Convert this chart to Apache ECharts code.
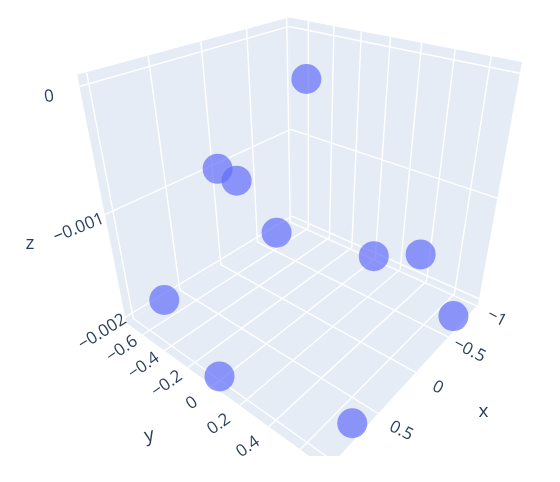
<!DOCTYPE html>
<html><head><meta charset="utf-8">
<script src="https://cdn.jsdelivr.net/npm/echarts@6/dist/echarts.min.js"></script>
<style>html,body{margin:0;background:#fff}#c{width:560px;height:482px}</style>
</head><body><div id="c"></div>
<script>
const xValues=[0,0,0.7,-0.71,-1,0,-0.71,0.71,1,0.72];
const yValues=[0,-0.71,0,-0.71,0,0.71,0.71,0.71,0,-0.71];
const zValues=[0,-0.00101,-0.0005,-0.00202,-0.00202,-0.00101,-0.00202,-0.00202,-0.00202,-0.002];
const xRange=[-1.03,1.07], yRange=[-0.76,0.76], zRange=[-0.00206,0.00008];
const xTicks=[-1,-0.5,0,0.5,1], yTicks=[-0.6,-0.4,-0.2,0,0.2,0.4,0.6], zTicks=[-0.002,-0.001,0];
const zTickAngles=[32,22,8];
const xTitle='x',yTitle='y',zTitle='z';
const corners=[[0,0,0,292.5,222],[1,0,0,126,322],[0,1,0,478,303],[1,1,0,327,470],[0,0,1,288.3,16.7],[1,0,1,77.7,75],[0,1,1,522.3,62.7]];
function solve(M,R){const n=R.length;M=M.map((r,i)=>[...r,R[i]]);for(let i=0;i<n;i++){let k=i;for(let j=i;j<n;j++)if(Math.abs(M[j][i])>Math.abs(M[k][i]))k=j;[M[i],M[k]]=[M[k],M[i]];for(let j=0;j<n;j++)if(j!==i){const f=M[j][i]/M[i][i];for(let l=i;l<=n;l++)M[j][l]-=f*M[i][l];}}return M.map((r,i)=>r[n]/r[i]);}
const rows=[],rhs=[];corners.forEach(([a,b,c,u,v])=>{rows.push([a,b,c,1,0,0,0,0,-u*a,-u*b,-u*c]);rhs.push(u);rows.push([0,0,0,0,a,b,c,1,-v*a,-v*b,-v*c]);rhs.push(v);});
const ATA=Array.from({length:11},(_,i)=>Array.from({length:11},(_,j)=>rows.reduce((s,r)=>s+r[i]*r[j],0))),ATb=Array.from({length:11},(_,i)=>rows.reduce((s,r,k)=>s+r[i]*rhs[k],0));
const [m00,m01,m02,m03,m10,m11,m12,m13,g,h,w]=solve(ATA,ATb);
const nx=v=>(v-xRange[0])/(xRange[1]-xRange[0]),ny=v=>(v-yRange[0])/(yRange[1]-yRange[0]),nz=v=>(v-zRange[0])/(zRange[1]-zRange[0]);
function proj(x,y,z){const a=nx(x),b=ny(y),c=nz(z),q=g*a+h*b+w*c+1;return [(m00*a+m01*b+m02*c+m03)/q,(m10*a+m11*b+m12*c+m13)/q];}
const [x0,x1]=xRange,[y0,y1]=yRange,[z0,z1]=zRange;
const panes=[[[x0,y0,z0],[x1,y0,z0],[x1,y0,z1],[x0,y0,z1]],[[x0,y0,z0],[x0,y1,z0],[x0,y1,z1],[x0,y0,z1]],[[x0,y0,z0],[x1,y0,z0],[x1,y1,z0],[x0,y1,z0]]];
const lines=[];
xTicks.forEach(t=>{lines.push([[t,y0,z0],[t,y0,z1]]);lines.push([[t,y0,z0],[t,y1,z0]]);});
yTicks.forEach(t=>{lines.push([[x0,t,z0],[x0,t,z1]]);lines.push([[x0,t,z0],[x1,t,z0]]);});
zTicks.forEach(t=>{lines.push([[x0,y0,t],[x1,y0,t]]);lines.push([[x0,y0,t],[x0,y1,t]]);});
const fmt=v=>String(v).replace('-','\u2212');
const labels=[];
xTicks.forEach(t=>labels.push({p:[t,y1+0.135,z0-0.00003],s:fmt(t),r:-27,f:17}));
yTicks.forEach(t=>labels.push({p:[x1+0.2,t,z0-0.00001],s:fmt(t),r:35,f:17}));
zTicks.forEach((t,i)=>labels.push({p:[x1+0.22,y0,t-0.00001],s:t===0?'0':t.toFixed(3).replace('-','\u2212'),r:zTickAngles[i],f:17}));
labels.push({p:[0,y1+0.39,z0-0.00002],s:xTitle,r:0,f:19});
labels.push({p:[x1+0.57,0,z0],s:yTitle,r:12,f:19});
labels.push({p:[x1+0.58,y0,-0.00096],s:zTitle,r:0,f:19});
const chart=echarts.init(document.getElementById('c'));
chart.setOption({animation:false,
 grid:{left:0,top:0,width:560,height:456},
 xAxis:{type:'value',min:0,max:560,show:false},yAxis:{type:'value',min:0,max:456,inverse:true,show:false},
 series:[
 {type:'custom',clip:true,data:panes.map((p,i)=>[i]),renderItem:(par,api)=>({type:'polygon',shape:{points:panes[api.value(0)].map(p=>api.coord(proj(...p)))},style:{fill:'#e5ecf6'}})},
 {type:'custom',clip:true,data:lines.map((p,i)=>[i]),renderItem:(par,api)=>{const l=lines[api.value(0)],a=api.coord(proj(...l[0])),b=api.coord(proj(...l[1]));return {type:'line',shape:{x1:a[0],y1:a[1],x2:b[0],y2:b[1]},style:{stroke:'#fff',lineWidth:1.4}};}},
 {type:'custom',clip:true,data:labels.map((p,i)=>[i]),renderItem:(par,api)=>{const l=labels[api.value(0)],a=api.coord(proj(...l.p));return {type:'text',x:a[0],y:a[1],rotation:l.r*Math.PI/180,style:{text:l.s,fill:'#2a3f5f',font:l.f+'px "Open Sans"',align:'center',verticalAlign:'middle'}};}},
 {type:'scatter',symbolSize:30,data:xValues.map((v,i)=>proj(v,yValues[i],zValues[i])),itemStyle:{color:'#636efa',opacity:0.7}}
 ]});
</script></body></html>
